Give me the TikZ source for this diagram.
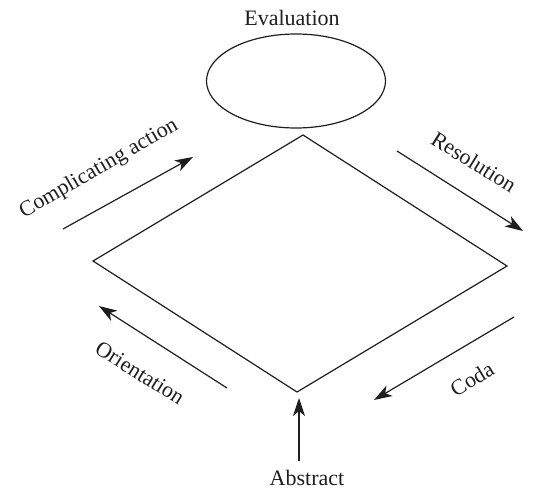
\documentclass[tikz,border=0pt]{standalone}
\usepackage{fontspec}
\setmainfont{Liberation Serif}
\usetikzlibrary{shapes.geometric,arrows.meta,positioning}
\definecolor{lnblack}{RGB}{30,30,30}

\begin{document}
\begin{tikzpicture}[x=1pt,y=-1pt,
  edge/.style={draw=lnblack,line width=1.2pt},
  flow/.style={draw=lnblack,line width=1.2pt,-{Stealth[length=18pt,width=12pt,inset=5pt]}},
  lbl/.style={font=\fontsize{22}{24}\selectfont,text=lnblack,inner sep=0pt},
]
  \useasboundingbox (0,0) rectangle (536,500);
  % diamond corners
  \coordinate (dtop) at (303,135);
  \coordinate (dleft) at (93,261);
  \coordinate (dright) at (507,266);
  \coordinate (dbot) at (297,392);
  \draw[edge,line join=miter] (dtop) -- (dright) -- (dbot) -- (dleft) -- cycle;
  % evaluation on top
  \node[edge,ellipse,minimum width=179pt,minimum height=94pt] (eval) at (296,81) {};
  \node[lbl] (evallbl) at (292,18) {Evaluation};
  % arrow ends
  \coordinate (ca1) at (63,229);   \coordinate (ca2) at (193,157);
  \coordinate (re1) at (397,151);  \coordinate (re2) at (523,231);
  \coordinate (co1) at (514,317);  \coordinate (co2) at (374,400);
  \coordinate (or1) at (227,388);  \coordinate (or2) at (99,306);
  \coordinate (ab1) at (299,461);  \coordinate (ab2) at (299,398);
  \draw[flow] (ca1) -- (ca2);
  \draw[flow] (re1) -- (re2);
  \draw[flow] (co1) -- (co2);
  \draw[flow] (or1) -- (or2);
  \draw[flow] (ab1) -- (ab2);
  % labels
  \node[lbl,rotate=30] (calbl) at (99,169) {Complicating action};
  \node[lbl,rotate=-32] (relbl) at (474,162) {Resolution};
  \node[lbl,rotate=31] (colbl) at (472,379) {Coda};
  \node[lbl,rotate=-32] (orlbl) at (140,373) {Orientation};
  \node[lbl] (ablbl) at (307,478) {Abstract};
\end{tikzpicture}
\end{document}
